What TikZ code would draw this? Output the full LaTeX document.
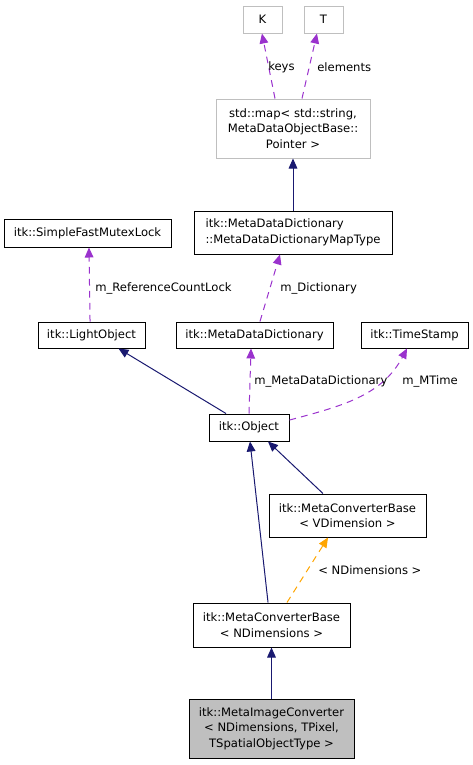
\documentclass[tikz,border=0pt]{standalone}
\usepackage{fontspec}
\setmainfont{DejaVu Sans}
\usepackage{tikz}
\usetikzlibrary{shapes,arrows,arrows.meta}
\definecolor{navy}{HTML}{191970}
\definecolor{orchid}{HTML}{9A32CD}
\definecolor{amber}{HTML}{FFA500}
\definecolor{boxgray}{HTML}{BFBFBF}

\begin{document}
\begin{tikzpicture}[x=0.75pt,y=0.75pt,yscale=-1,xscale=1,
  cls/.style={draw=black,line width=0.75pt,inner sep=0pt,align=center,font=\fontsize{8.7}{11.7}\selectfont},
  tmpl/.style={cls,draw=boxgray},
  inherit/.style={draw=navy,line width=0.75pt,-{Triangle[length=7.5pt,width=6.5pt]}},
  usage/.style={draw=orchid,line width=0.75pt,dash pattern=on 5pt off 4pt,-{Triangle[length=7.5pt,width=6.5pt]}},
  inst/.style={draw=amber,line width=0.75pt,dash pattern=on 5pt off 4pt,-{Triangle[length=7.5pt,width=6.5pt]}},
  lbl/.style={anchor=west,inner sep=0pt,font=\fontsize{8.7}{11.7}\selectfont}]
\useasboundingbox (0,0) rectangle (473,765);

%Template arguments
\node[tmpl,minimum width=29.25pt,minimum height=20.25pt] (K) at (262.5,19.5) {K};
\node[tmpl,minimum width=29.25pt,minimum height=20.25pt] (T) at (323.5,19.5) {T};
\node[tmpl,minimum width=115.5pt,minimum height=44.25pt] (map) at (293,128.5) {std::map< std::string,\\ MetaDataObjectBase::\\ Pointer >};

%Classes
\node[cls,align=left,minimum width=148.5pt,minimum height=32.25pt] (mapt) at (293,232.5) {itk::MetaDataDictionary\\::MetaDataDictionaryMapType};
\node[cls,minimum width=125.25pt,minimum height=21pt] (mutex) at (87.5,233) {itk::SimpleFastMutexLock};
\node[cls,minimum width=80.25pt,minimum height=19.5pt] (light) at (91.5,335) {itk::LightObject};
\node[cls,minimum width=117.75pt,minimum height=19.5pt] (mdd) at (254.5,335) {itk::MetaDataDictionary};
\node[cls,minimum width=80.25pt,minimum height=19.5pt] (stamp) at (414.5,335) {itk::TimeStamp};
\node[cls,minimum width=60pt,minimum height=20.25pt] (obj) at (249,427.5) {itk::Object};
\node[cls,minimum width=117.75pt,minimum height=32.25pt] (mcbv) at (347.5,515.5) {itk::MetaConverterBase\\< VDimension >};
\node[cls,minimum width=117.75pt,minimum height=33pt] (mcbn) at (271.5,625) {itk::MetaConverterBase\\< NDimensions >};
\node[cls,fill=boxgray,minimum width=123.75pt,minimum height=44.25pt] (mic) at (271.5,728.5) {itk::MetaImageConverter\\< NDimensions, TPixel,\\ TSpatialObjectType >};

%Straight Lines
\draw[usage] ([xshift=-13.5pt]map.north) -- ([xshift=-0.4pt]K.south);
\draw[usage] ([xshift=6.75pt]map.north) -- ([xshift=-4.9pt]T.south);
\draw[inherit] (mapt.north) -- (map.south);
\draw[usage] ([xshift=-1.1pt]light.north) -- ([xshift=1.1pt]mutex.south);
\draw[usage] ([xshift=4.1pt]mdd.north) -- ([xshift=-9.75pt]mapt.south);
\draw[inherit] ([xshift=-17.25pt]obj.north) -- ([xshift=20.25pt]light.south);
\draw[usage] (obj.north) -- ([xshift=-2.6pt]mdd.south);
\draw[usage] ([yshift=-5.6pt]obj.east) to[out=-15,in=118] ([xshift=-5.6pt]stamp.south);
\draw[inherit] ([xshift=-2.6pt]mcbn.north) -- ([xshift=0.75pt]obj.south);
\draw[inherit] ([xshift=-18.4pt]mcbv.north) -- ([xshift=14.25pt]obj.south);
\draw[inst] ([xshift=11.6pt]mcbn.north) -- ([xshift=-14.6pt]mcbv.south);
\draw[inherit] (mic.north) -- (mcbn.south);

% Text Node
\node[lbl] (lkeys) at (268,67) {keys};
\node[lbl] (lelem) at (317,67) {elements};
\node[lbl] (lref) at (95,288) {m\_ReferenceCountLock};
\node[lbl] (ldict) at (280,288) {m\_Dictionary};
\node[lbl] (lmdd) at (254,381) {m\_MetaDataDictionary};
\node[lbl] (ltime) at (402,381) {m\_MTime};
\node[lbl] (lndim) at (318,570) {< NDimensions >};

\end{tikzpicture}
\end{document}
